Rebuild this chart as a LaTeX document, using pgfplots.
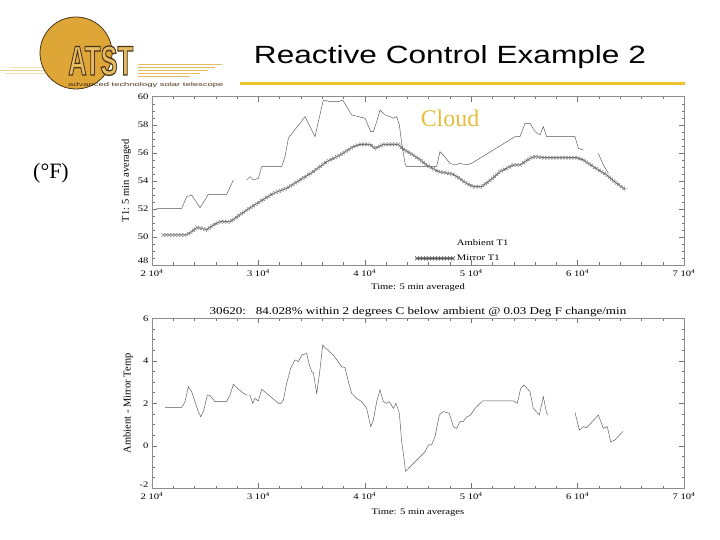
\documentclass[border=0pt]{standalone}
\usepackage{fontspec}
\setmainfont{Liberation Serif}
\newfontfamily\chartfont[FakeStretch=1.25]{Liberation Serif}
\newfontfamily\titlefont[FakeStretch=1.27]{Liberation Sans}
\newfontfamily\logofont{Liberation Sans}
\usepackage{pgfplots}
\pgfplotsset{compat=1.18}
\usetikzlibrary{decorations.markings}
\definecolor{slidegold}{HTML}{F0C431}
\definecolor{cloudgold}{HTML}{E6BE3C}
\definecolor{logosun}{HTML}{DEA537}
\definecolor{logoletter}{HTML}{E6BC62}
\definecolor{logodark}{HTML}{4A3418}
\definecolor{plotgray}{HTML}{555555}
\tikzset{xmarks/.style={postaction={decorate},
  decoration={markings, mark=between positions 0 and 1 step 3bp with
  {\draw[black!55, line width=0.35pt] (-1.8bp,-1.8bp)--(1.8bp,1.8bp) (-1.8bp,1.8bp)--(1.8bp,-1.8bp);}}}}
\pgfplotsset{chartstyle/.style={
  scale only axis, width=532bp, anchor=south west,
  xmin=20000, xmax=70000, scaled x ticks=false, scaled y ticks=false,
  xtick={20000,30000,40000,50000,60000,70000},
  xticklabels={2 10\textsuperscript{4},3 10\textsuperscript{4},4 10\textsuperscript{4},5 10\textsuperscript{4},6 10\textsuperscript{4},7 10\textsuperscript{4}},
  minor x tick num=4, minor y tick num=3,
  tick align=inside, major tick length=5bp, minor tick length=2.5bp,
  axis line style={black!45, line width=0.5pt},
  every tick/.style={black!55, line width=0.4pt},
  tick label style={font=\chartfont\fontsize{8.5}{9}\selectfont},
  xticklabel style={yshift=-1bp},
  /pgf/number format/assume math mode=true,
  xlabel style={font=\chartfont\fontsize{8.5}{9}\selectfont},
  ylabel style={font=\fontsize{10.5}{11}\selectfont},
  extra y tick style={yticklabel style={yshift=4bp}, major tick length=0pt},
  unbounded coords=jump,
}}
\pgfplotstableread{
x y
20440 52.04
22789 52.04
23259 52.87
23729 52.99
24136 52.52
24512 52.09
24982 52.64
25296 53.04
27019 53.04
27175 53.28
27645 54.06
28200 nan
28898 54.06
29212 54.30
29525 54.06
29995 54.18
30308 55.01
32188 55.01
32502 55.73
32815 57.03
33285 57.51
33911 58.10
34381 58.58
34851 57.86
35321 57.15
35634 58.22
36104 59.76
36731 59.65
37514 59.65
37922 59.76
38298 59.29
38768 58.70
39395 58.58
40021 58.46
40554 57.51
40804 57.51
41117 58.22
41431 59.05
41901 58.70
42371 58.58
42684 58.46
42997 58.58
43248 57.98
43468 56.68
43781 55.25
43937 55.01
46753 55.01
47066 56.08
47380 55.84
48006 55.25
48476 55.13
48946 55.25
49573 55.13
50043 55.25
54116 57.15
54586 57.15
55056 58.10
55526 58.10
55996 57.51
56466 57.27
56780 57.86
57093 57.15
59756 57.15
60069 56.32
60539 56.20
61200 nan
61949 55.96
62419 55.13
62889 54.54
}\ambient
\pgfplotstableread{
x y
21066 50.14
23259 50.14
23729 50.38
24199 50.67
24669 50.62
25139 50.50
25766 50.86
26392 51.09
27332 51.09
27802 51.33
28898 51.92
30152 52.52
31405 53.11
32658 53.47
33911 54.06
35165 54.66
36418 55.37
37671 55.84
38924 56.44
39551 56.60
40491 56.60
40961 56.32
41744 56.60
43154 56.60
43624 56.25
44560 55.84
45190 55.50
45813 55.13
46910 54.66
48320 54.47
49573 53.82
50200 53.59
50983 53.59
51610 53.94
52706 54.66
53959 55.13
54586 55.13
55526 55.61
55996 55.73
56780 55.65
59913 55.65
60539 55.49
61479 55.01
62733 54.42
63673 53.82
64456 53.40
}\mirror
\pgfplotstableread{
x y
21223 1.81
22789 1.81
23102 2.08
23416 2.78
23729 2.55
24042 2.08
24356 1.61
24575 1.37
24826 1.61
25202 2.39
25452 2.36
25922 2.08
27019 2.08
27332 2.39
27645 2.89
28115 2.67
28585 2.47
28898 2.39
29212 2.39
29462 2.00
29682 2.23
29995 2.11
30308 2.66
30778 2.47
31405 2.20
31875 2.00
32125 2.00
32345 2.16
32658 2.94
33034 3.65
33441 4.04
33755 3.96
34068 4.27
34538 4.35
34789 3.80
35008 3.49
35165 3.44
35478 2.47
35728 3.33
36042 4.74
36261 4.62
37045 4.27
37828 3.72
38141 3.68
38455 3.02
38768 2.47
39238 2.23
39708 2.08
40178 1.76
40554 0.90
40804 1.21
41117 2.08
41431 2.63
41744 2.08
42057 2.00
42307 2.08
42684 1.76
42934 2.00
43248 1.53
43468 0.19
43624 -0.35
43830 -1.20
44717 -0.75
45657 -0.28
45970 0.04
46283 0.04
46597 0.43
47004 1.45
47380 1.61
47944 1.53
48320 0.90
48633 0.82
48946 1.14
49260 1.14
49573 1.37
49886 1.42
50356 1.76
51077 2.11
53959 2.11
54335 2.00
54648 2.70
54962 2.86
55526 2.55
55840 1.76
56403 1.45
56780 2.31
57093 1.53
57249 1.45
58500 nan
59756 1.57
60163 0.74
60539 0.90
60852 0.85
61949 1.45
62419 0.82
62795 0.90
63108 0.19
63516 0.27
64236 0.67
}\difference
\begin{document}
\begin{tikzpicture}
\path[use as bounding box, fill=white] (0,0) rectangle (720bp,540bp);
% logo
\draw[logoletter!70, line width=0.5pt] (0bp,470bp) -- (68bp,470bp);
\draw[logoletter!50, line width=0.5pt] (5bp,467bp) -- (68bp,467bp);
\draw[logoletter!50, line width=0.5pt] (10bp,473bp) -- (68bp,473bp);
\fill[logosun] (76bp,487bp) circle (36bp);
\draw[logodark, line width=0.8pt] (76bp,487bp) circle (36bp);
\foreach \dy/\len in {476/222,473/215,470/208,467/200,464/190}{
  \draw[logoletter, line width=0.9pt] (138bp,\dy bp) -- (\len bp,\dy bp);}
\node[anchor=base west, inner sep=0pt, text=logoletter] at (68bp,465bp)
   {\scalebox{0.66}[1.07]{\special{pdf:literal direct 2 Tr 1.2 w 0.29 0.2 0.09 RG}\logofont\bfseries\fontsize{39}{39}\selectfont ATST\special{pdf:literal direct 0 Tr}}};
\node[anchor=base west, inner sep=0pt, text=logodark] at (68bp,453bp)
   {\scalebox{1.72}[1]{\logofont\fontsize{5.5}{6}\selectfont advanced technology solar telescope}};
% title
\node[anchor=base, inner sep=0pt] at (450bp,476bp)
   {\titlefont\fontsize{25}{28}\selectfont Reactive Control Example 2};
\draw[slidegold, line width=3.2pt] (240bp,456.7bp) -- (685bp,456.7bp);
\node[text=cloudgold, inner sep=0pt] at (450bp,422bp) {\fontsize{24}{26}\selectfont Cloud};
\node[inner sep=0pt] at (51bp,367bp) {\fontsize{22}{24}\selectfont (°F)};
% top plot
\begin{axis}[chartstyle, at={(152bp,275bp)}, height=168.3bp,
  ymin=48, ymax=60, ytick={48,50,52,54,56,58,60},
  yticklabels={,50,52,54,56,58,60},
  extra y ticks={48}, extra y tick labels={48},
  xlabel={Time: 5 min averaged}, ylabel={T1: 5 min averaged},
  xlabel style={yshift=0bp},
  legend style={at={(axis description cs:0.494,0.165)}, anchor=north west,
    draw=none, fill=none, inner sep=0pt, row sep=4bp,
    font=\chartfont\fontsize{8.5}{9}\selectfont},
  legend cell align=left]
\addplot[plotgray, line width=0.45pt, legend image code/.code={\path[draw=none] (0bp,0bp) -- (37bp,0bp);}] table[x=x,y=y] {\ambient};
\addlegendentry{Ambient T1}
\addplot[black!80, line width=0.5pt, xmarks, legend image code/.code={\draw[black!80, line width=0.5pt, xmarks] (0bp,0bp) -- (37bp,0bp);}] table[x=x,y=y] {\mirror};
\addlegendentry{Mirror T1}
\end{axis}
% bottom plot
\begin{axis}[chartstyle, at={(152bp,51.7bp)}, height=170bp,
  ymin=-2, ymax=6, ytick={-2,0,2,4,6},
  yticklabels={,0,2,4,6},
  extra y ticks={-2}, extra y tick labels={-2},
  xlabel={Time: 5 min averages}, ylabel={Ambient - Mirror Temp},
  xlabel style={yshift=-2bp},
  title={30620:\ \ \ 84.028\% within 2 degrees C below ambient @ 0.03 Deg F change/min},
  title style={font=\chartfont\fontsize{10.5}{11}\selectfont, yshift=-8bp}]
\addplot[plotgray, line width=0.45pt] table[x=x,y=y] {\difference};
\end{axis}
\end{tikzpicture}
\end{document}
